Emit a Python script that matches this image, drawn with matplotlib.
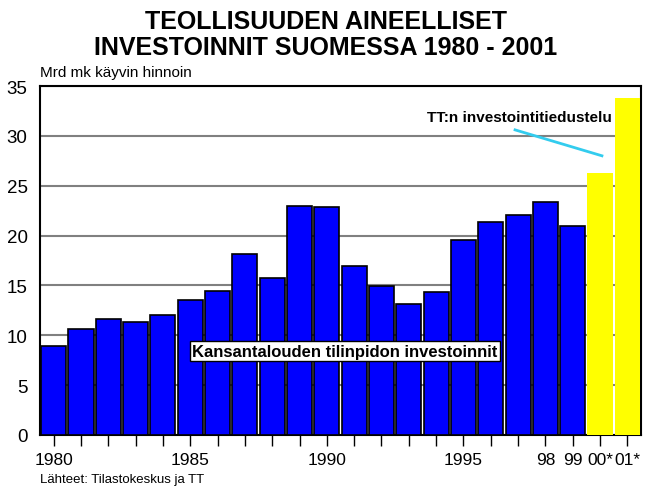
import matplotlib
matplotlib.use("Agg")
import matplotlib.pyplot as plt

years = list(range(1980, 2002))
values = [8.9, 10.6, 11.6, 11.3, 12.0, 13.5, 14.4, 18.2, 15.7, 23.0, 22.9,
          16.9, 14.9, 13.1, 14.3, 19.6, 21.4, 22.1, 23.4, 21.0, 26.3, 33.8]
tick_labels = ["1980", "", "", "", "", "1985", "", "", "", "", "1990",
               "", "", "", "", "1995", "", "", "98", "99", "00*", "01*"]
n_actual = 20  # 1980-1999 national accounts, 2000-2001 survey

plt.rcParams['font.family'] = ['Liberation Sans', 'DejaVu Sans']

fig = plt.figure(figsize=(6.52, 4.89), dpi=100)
ax = fig.add_axes([40/652, 53/489, 601/652, 349/489])

x = list(range(len(years)))
ax.bar(x[:n_actual], values[:n_actual], width=0.92, color='#0000FF',
       edgecolor='black', linewidth=1.2, zorder=3)
ax.bar(x[n_actual:], values[n_actual:], width=0.94, color='#FFFF00',
       edgecolor='none', zorder=3)

ax.set_xlim(-0.5, len(years) - 0.5)
ax.set_ylim(0, 35)
ax.set_yticks(range(0, 36, 5))
ax.yaxis.grid(True, color='#808080', linewidth=1.5, zorder=0)
ax.set_axisbelow(True)
ax.tick_params(axis='y', length=0, labelsize=13.5, pad=9)
ax.set_xticks(x)
ax.set_xticklabels(tick_labels)
ax.tick_params(axis='x', direction='out', length=8, width=1, labelsize=12.5, pad=4)
for s in ax.spines.values():
    s.set_linewidth(1.5)
    s.set_color('black')

fig.text(0.5, 454/489, "TEOLLISUUDEN AINEELLISET\nINVESTOINNIT SUOMESSA 1980 - 2001",
         ha='center', va='center', fontsize=18, fontweight='bold', linespacing=1.12)
fig.text(40/652, 416/489, "Mrd mk käyvin hinnoin", ha='left', va='center', fontsize=11)
fig.text(40/652, 9/489, "Lähteet: Tilastokeskus ja TT", ha='left', va='center', fontsize=9.5)

ax.text(20.44, 31.9, "TT:n investointitiedustelu", ha='right', va='center',
        fontsize=11, fontweight='bold', zorder=5)
ax.plot([16.89, 20.07], [30.6, 28.0], color='#33CCEE', linewidth=2, zorder=5)

ax.text(10.66, 8.4, "Kansantalouden tilinpidon investoinnit", ha='center', va='center',
        fontsize=12, fontweight='bold', zorder=5,
        bbox=dict(boxstyle='square,pad=0.15', facecolor='white', edgecolor='black', linewidth=1))

fig.savefig("out.png", dpi=100)
